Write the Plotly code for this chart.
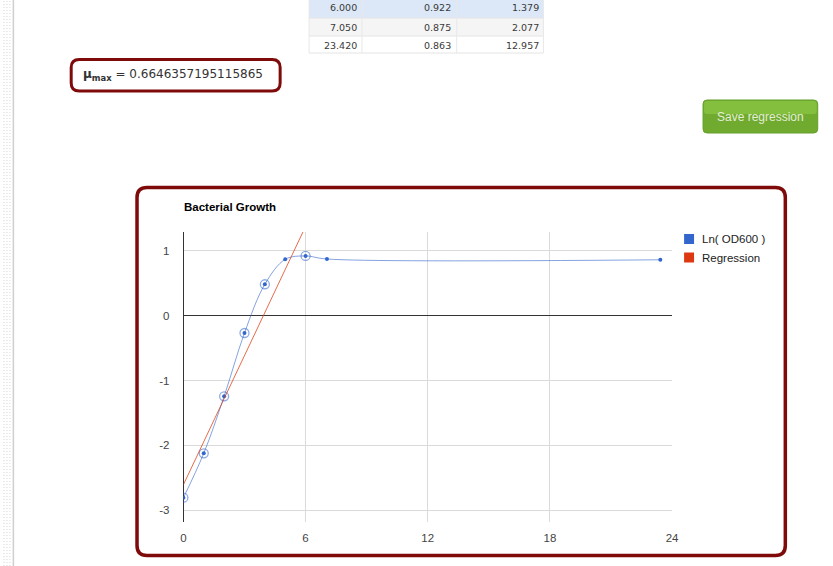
import plotly.graph_objects as go

# ---------------- data ----------------
time_h = [0, 1, 2, 3, 4, 5, 6, 7.05, 23.42]
ln_od600 = [-2.81, -2.125, -1.245, -0.267, 0.485, 0.87, 0.922, 0.875, 0.863]
used_in_regression = [True, True, True, True, True, False, True, False, False]

reg_x = [0, 6]
reg_y = [-2.61, 1.378]

mu_max = "0.6646357195115865"

table_time = ["6.000", "7.050", "23.420"]
table_ln = ["0.922", "0.875", "0.863"]
table_c3 = ["1.379", "2.077", "12.957"]

x_ticks = [0, 6, 12, 18, 24]
x_tick_text = ["0", "6", "12", "18", "24"]
y_ticks = [-3, -2, -1, 0, 1]
y_tick_text = ["-3", "-2", "-1", "0", "1"]

# ---------------- page geometry helpers ----------------
W, H = 833, 566


def X(p):
    # slight horizontal correction anchored near the left side
    return (p + (p - 120) * 0.0095) / W


def Y(p):
    return 1 - p / H


def rrect(x0, y0, x1, y1, r):
    return (f"M {X(x0+r)},{Y(y0)} L {X(x1-r)},{Y(y0)} Q {X(x1)},{Y(y0)} {X(x1)},{Y(y0+r)} "
            f"L {X(x1)},{Y(y1-r)} Q {X(x1)},{Y(y1)} {X(x1-r)},{Y(y1)} "
            f"L {X(x0+r)},{Y(y1)} Q {X(x0)},{Y(y1)} {X(x0)},{Y(y1-r)} "
            f"L {X(x0)},{Y(y0+r)} Q {X(x0)},{Y(y0)} {X(x0+r)},{Y(y0)} Z")


BLUE = "#3366cc"
RED = "#dc3912"
FONT = "Liberation Sans, Arial, sans-serif"
VFONT = "DejaVu Sans, Verdana, sans-serif"

fig = go.Figure()

fig.add_trace(go.Scatter(
    x=time_h, y=ln_od600, mode="lines+markers",
    line=dict(color="rgba(51,102,204,0.6)", width=1, shape="spline", smoothing=1),
    marker=dict(color=BLUE, size=4),
    name="Ln( OD600 )", showlegend=False, hoverinfo="x+y"))

sel_x = [t for t, u in zip(time_h, used_in_regression) if u]
sel_y = [v for v, u in zip(ln_od600, used_in_regression) if u]
fig.add_trace(go.Scatter(
    x=sel_x, y=sel_y, mode="markers",
    marker=dict(symbol="circle-open", size=9, color="rgba(51,102,204,0.55)",
                line=dict(width=1.3, color="rgba(51,102,204,0.55)")),
    showlegend=False, hoverinfo="skip"))

fig.add_trace(go.Scatter(
    x=reg_x, y=reg_y, mode="lines",
    line=dict(color="rgba(220,57,18,0.75)", width=1),
    name="Regression", showlegend=False))

shapes = []
annotations = []

# left dotted strip
for xd in [1, 4, 7]:
    shapes.append(dict(type="line", xref="paper", yref="paper", x0=xd / W, x1=xd / W, y0=0, y1=1,
                       line=dict(color="#d6d6d6", width=1, dash="1px,2px")))
shapes.append(dict(type="line", xref="paper", yref="paper", x0=10.5 / W, x1=10.5 / W, y0=0, y1=1,
                   line=dict(color="#cfcfcf", width=1.5)))

# table fragment
shapes.append(dict(type="rect", xref="paper", yref="paper", x0=X(308), x1=X(543), y0=Y(18), y1=Y(-2),
                   fillcolor="#dce8f7", line=dict(width=0), layer="below"))
shapes.append(dict(type="rect", xref="paper", yref="paper", x0=X(308), x1=X(543), y0=Y(36), y1=Y(18),
                   fillcolor="#f5f5f5", line=dict(width=0), layer="below"))
for yl in [18, 36, 53]:
    shapes.append(dict(type="line", xref="paper", yref="paper", x0=X(308), x1=X(543), y0=Y(yl), y1=Y(yl),
                       line=dict(color="#e4e4e4", width=1)))
for xl in [308, 361, 456, 543]:
    shapes.append(dict(type="line", xref="paper", yref="paper", x0=X(xl), x1=X(xl), y0=Y(53), y1=Y(0),
                       line=dict(color="#e8e8e8", width=1)))
row_y = [8, 27, 45]
for i in range(3):
    for txt, xr in [(table_time[i], 358), (table_ln[i], 452), (table_c3[i], 541)]:
        annotations.append(dict(text=txt, xref="paper", yref="paper", x=X(xr), y=Y(row_y[i]),
                                xanchor="right", yanchor="middle", showarrow=False,
                                font=dict(family=VFONT, size=9.5, color="#3a3a3a")))

# mu max box
shapes.append(dict(type="path", xref="paper", yref="paper", path=rrect(69.5, 59.5, 279, 91, 8),
                   line=dict(color="#7f0a0a", width=3), fillcolor="white"))
annotations.append(dict(text="<b>μ<sub>max</sub></b> = " + mu_max, xref="paper", yref="paper",
                        x=X(79), y=Y(75), xanchor="left", yanchor="middle", showarrow=False,
                        font=dict(family=VFONT, size=12, color="#333")))

# save regression button
shapes.append(dict(type="path", xref="paper", yref="paper", path=rrect(703, 100, 818, 133, 4),
                   line=dict(color="#65a02a", width=1), fillcolor="#70ab30"))
shapes.append(dict(type="path", xref="paper", yref="paper", path=rrect(704, 101, 817, 114, 3),
                   line=dict(width=0), fillcolor="#84bf3e"))
annotations.append(dict(text="Save regression", xref="paper", yref="paper", x=X(760.5), y=Y(117),
                        xanchor="center", yanchor="middle", showarrow=False,
                        font=dict(family=FONT, size=12, color="#e2eed4")))

# chart box
shapes.append(dict(type="path", xref="paper", yref="paper", path=rrect(135.5, 187.5, 785.5, 555.5, 10),
                   line=dict(color="#7f0a0a", width=3.5)))

# title
annotations.append(dict(text="<b>Bacterial Growth</b>", xref="paper", yref="paper", x=X(181), y=Y(207.5),
                        xanchor="left", yanchor="middle", showarrow=False,
                        font=dict(family=FONT, size=11.5, color="#000")))

# legend (drawn)
for label, col, yc in [("Ln( OD600 )", BLUE, 239), ("Regression", RED, 257.5)]:
    shapes.append(dict(type="rect", xref="paper", yref="paper", x0=X(684), x1=X(694), y0=Y(yc + 5), y1=Y(yc - 5),
                       fillcolor=col, line=dict(width=0)))
    annotations.append(dict(text=label, xref="paper", yref="paper", x=X(699.5), y=Y(yc),
                            xanchor="left", yanchor="middle", showarrow=False,
                            font=dict(family=FONT, size=11.5, color="#222")))

axis_common = dict(showgrid=True, gridcolor="#dadada", gridwidth=1, zeroline=True,
                   zerolinecolor="#333", zerolinewidth=1, showline=False, ticks="",
                   tickfont=dict(family=FONT, size=11.5, color="#444"))

fig.update_layout(
    width=W, height=H, margin=dict(l=0, r=0, t=0, b=0),
    paper_bgcolor="white", plot_bgcolor="white",
    xaxis=dict(domain=[X(182), X(672)], range=[0, 24], tickvals=x_ticks, ticktext=x_tick_text,
               ticklabelstandoff=7, **axis_common),
    yaxis=dict(domain=[Y(522), Y(232)], range=[-3.185, 1.292], tickvals=y_ticks, ticktext=y_tick_text,
               ticklabelstandoff=13, **axis_common),
    shapes=shapes, annotations=annotations, showlegend=False,
)

fig.write_html("out.html")
